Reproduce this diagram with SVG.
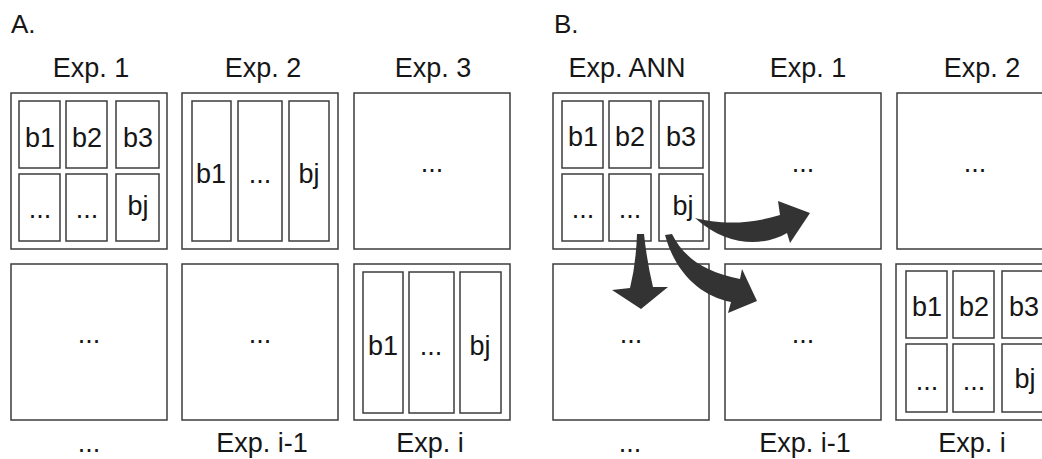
<svg xmlns="http://www.w3.org/2000/svg" width="1042" height="459" viewBox="0 0 1042 459">
  <style>
    text { font-family: "Liberation Sans", Arial, sans-serif; font-size: 27px; fill: #161616; text-anchor: middle; }
    .panel { font-size: 26px; text-anchor: start; }
    .box { fill: #fff; stroke: #3c3c3c; stroke-width: 1.5; }
    .cell { fill: #fff; stroke: #3c3c3c; stroke-width: 1.5; }
    .arrow { fill: #333; stroke: none; }
  </style>
  <rect width="1042" height="459" fill="#fff"/>

  <text class="panel" x="11" y="33">A.</text>
  <text class="panel" x="554" y="33">B.</text>

  <!-- Panel A, top row -->
  <g id="a-exp1">
    <text x="91" y="77">Exp. 1</text>
    <rect class="box" x="11" y="93" width="156" height="156"/>
    <rect class="cell" x="19" y="101" width="41" height="67"/>
    <rect class="cell" x="66" y="101" width="41" height="67"/>
    <rect class="cell" x="116" y="101" width="43" height="67"/>
    <rect class="cell" x="19" y="174" width="41" height="67"/>
    <rect class="cell" x="66" y="174" width="41" height="67"/>
    <rect class="cell" x="116" y="174" width="43" height="67"/>
    <text x="40" y="147">b1</text>
    <text x="87" y="147">b2</text>
    <text x="138" y="147">b3</text>
    <text x="40" y="218">...</text>
    <text x="87" y="218">...</text>
    <text x="138" y="215">bj</text>
  </g>
  <g id="a-exp2">
    <text x="263" y="77">Exp. 2</text>
    <rect class="box" x="182" y="93" width="156" height="156"/>
    <rect class="cell" x="192" y="101" width="39" height="140"/>
    <rect class="cell" x="238" y="101" width="44" height="140"/>
    <rect class="cell" x="289" y="101" width="40" height="140"/>
    <text x="211" y="183">b1</text>
    <text x="260" y="183">...</text>
    <text x="309" y="183">bj</text>
  </g>
  <g id="a-exp3">
    <text x="433" y="77">Exp. 3</text>
    <rect class="box" x="354" y="93" width="156" height="156"/>
    <text x="432" y="172">...</text>
  </g>

  <!-- Panel A, bottom row -->
  <g id="a-expn">
    <rect class="box" x="11" y="264" width="156" height="156"/>
    <text x="89" y="343">...</text>
    <text x="89" y="452">...</text>
  </g>
  <g id="a-exp-i-1">
    <rect class="box" x="182" y="264" width="156" height="156"/>
    <text x="260" y="343">...</text>
    <text x="262" y="452">Exp. i-1</text>
  </g>
  <g id="a-exp-i">
    <rect class="box" x="354" y="264" width="156" height="156"/>
    <rect class="cell" x="363" y="272" width="40" height="141"/>
    <rect class="cell" x="409" y="272" width="45" height="141"/>
    <rect class="cell" x="460" y="272" width="41" height="141"/>
    <text x="383" y="355">b1</text>
    <text x="431" y="355">...</text>
    <text x="480" y="355">bj</text>
    <text x="430" y="452">Exp. i</text>
  </g>

  <!-- Panel B, top row -->
  <g id="b-ann">
    <text x="627" y="77">Exp. ANN</text>
    <rect class="box" x="553" y="93" width="156" height="156"/>
    <rect class="cell" x="562" y="101" width="41" height="67"/>
    <rect class="cell" x="609" y="101" width="42" height="67"/>
    <rect class="cell" x="659" y="101" width="44" height="67"/>
    <rect class="cell" x="562" y="174" width="41" height="67"/>
    <rect class="cell" x="609" y="174" width="42" height="67"/>
    <rect class="cell" x="659" y="174" width="44" height="67"/>
    <text x="583" y="146">b1</text>
    <text x="630" y="146">b2</text>
    <text x="681" y="146">b3</text>
    <text x="583" y="218">...</text>
    <text x="630" y="218">...</text>
    <text x="683" y="215">bj</text>
  </g>
  <g id="b-exp1">
    <text x="808" y="77">Exp. 1</text>
    <rect class="box" x="725" y="93" width="156" height="156"/>
    <text x="803" y="172">...</text>
  </g>
  <g id="b-exp2">
    <text x="982" y="77">Exp. 2</text>
    <rect class="box" x="897" y="93" width="156" height="156"/>
    <text x="975" y="172">...</text>
  </g>

  <!-- Panel B, bottom row -->
  <g id="b-expn">
    <rect class="box" x="553" y="264" width="156" height="156"/>
    <text x="631" y="343">...</text>
    <text x="630" y="452">...</text>
  </g>
  <g id="b-exp-i-1">
    <rect class="box" x="725" y="264" width="156" height="156"/>
    <text x="803" y="343">...</text>
    <text x="805" y="452">Exp. i-1</text>
  </g>
  <g id="b-exp-i">
    <rect class="box" x="896" y="264" width="156" height="156"/>
    <rect class="cell" x="906" y="271" width="41" height="67"/>
    <rect class="cell" x="953" y="271" width="41" height="67"/>
    <rect class="cell" x="1002" y="271" width="44" height="67"/>
    <rect class="cell" x="906" y="344" width="41" height="68"/>
    <rect class="cell" x="953" y="344" width="41" height="68"/>
    <rect class="cell" x="1002" y="344" width="44" height="68"/>
    <text x="927" y="316">b1</text>
    <text x="974" y="316">b2</text>
    <text x="1024" y="316">b3</text>
    <text x="927" y="390">...</text>
    <text x="974" y="390">...</text>
    <text x="1025" y="388">bj</text>
    <text x="972" y="452">Exp. i</text>
  </g>

  <!-- Curved block arrows leaving the ANN experiment -->
  <g id="connectors">
    <path class="arrow" d="M695,218 C715,223 745,226 780,215 L778,201 L810,213 L790,243 L787,233 C765,246 728,248 695,218 Z"/>
    <path class="arrow" d="M637,234 Q636,264 630,288 L612,290 L641,309 L668,287 L653,287 Q647,262 644,234 Z"/>
    <path class="arrow" d="M672,234 C684,258 705,272 740,279 L742,269 L757,301 L728,313 L731,302 C700,296 675,272 665,235 Z"/>
  </g>
</svg>
